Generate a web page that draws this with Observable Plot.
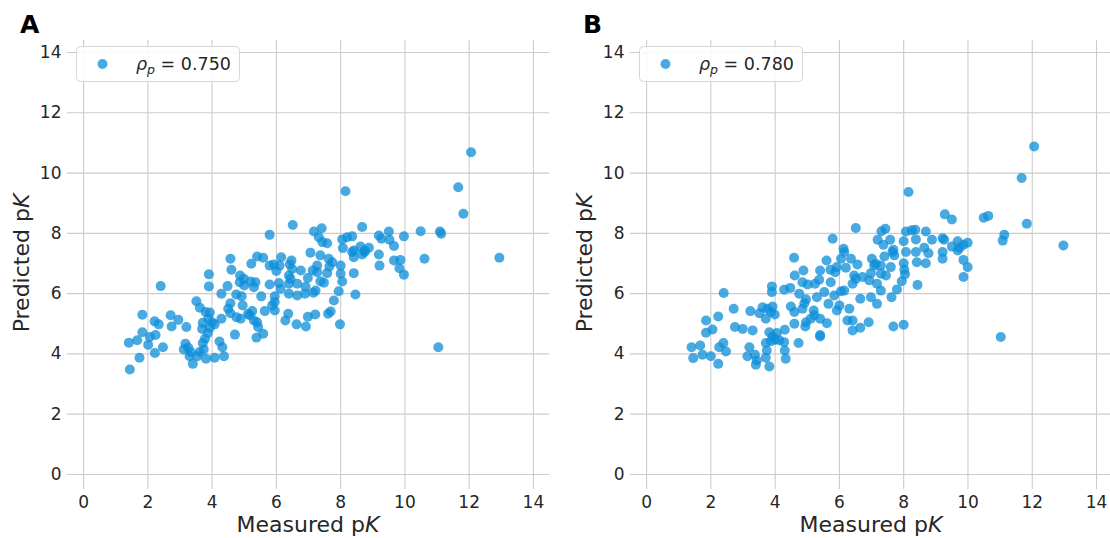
<!DOCTYPE html>
<html>
<head>
<meta charset="utf-8">
<script src="https://cdn.jsdelivr.net/npm/d3@7"></script>
<script src="https://cdn.jsdelivr.net/npm/@observablehq/plot@0.6"></script>
<style>
  html, body { margin: 0; padding: 0; background: #fff; overflow: hidden; }
  #wrap { position: relative; width: 1110px; height: 538px; }
  .panel { position: absolute; top: 0; }
</style>
</head>
<body>
<div id="wrap"></div>
<script>
// ---- data ----
const panelLabels = ["A", "B"];
const rhoValues = ["0.750", "0.780"];
const ticks = [0, 2, 4, 6, 8, 10, 12, 14];

const measuredA = [4.57,5.40,5.59,6.15,6.47,7.06,5.22,4.60,5.79,5.92,6.10,6.00,6.42,6.49,6.76,6.39,6.44,3.90,3.90,4.87,4.99,4.86,5.20,5.35,5.30,5.00,4.48,5.79,6.08,6.39,6.65,6.98,6.91,6.13,2.40,4.29,4.75,4.92,5.53,5.95,5.95,6.39,6.65,6.89,7.15,3.51,4.57,4.95,4.50,3.62,3.80,3.93,4.29,3.88,4.00,3.71,3.69,3.93,4.08,3.87,3.78,3.71,4.23,4.32,3.74,3.61,3.17,3.26,3.12,3.33,3.30,3.54,3.40,3.81,4.08,4.37,4.57,4.71,4.89,4.76,5.12,5.25,5.17,5.30,5.43,5.40,5.59,5.38,5.64,5.87,5.95,6.37,6.28,6.63,6.92,6.98,7.21,1.83,2.21,2.34,2.71,2.95,2.74,3.20,1.83,2.24,2.06,1.41,1.67,2.01,2.47,2.22,1.74,1.44,7.37,7.63,7.74,7.27,7.13,7.27,7.65,8.00,7.58,8.00,8.05,8.41,7.37,7.48,7.22,7.94,8.46,7.79,7.69,7.61,7.98,8.36,8.67,8.75,8.41,9.19,9.21,9.66,9.86,9.83,9.97,10.61,12.94,11.04,12.06,8.15,11.66,11.82,7.17,7.41,7.32,7.43,7.58,8.05,8.20,8.36,8.67,8.07,8.41,8.62,8.75,8.88,9.19,9.27,9.50,9.52,9.66,9.97,10.49,11.09,11.13,6.51,5.79];
const predictedA = [7.16,7.23,7.19,7.21,7.10,7.36,6.99,6.79,6.93,6.97,6.93,6.75,6.97,6.82,6.77,6.60,6.49,6.64,6.24,6.60,6.49,6.38,6.40,6.38,6.21,6.27,6.25,6.30,6.35,6.33,6.33,6.52,6.23,6.16,6.25,6.00,5.97,5.91,5.91,5.91,5.72,6.00,5.94,6.00,6.03,5.75,5.68,5.61,5.50,5.53,5.39,5.37,5.17,5.17,5.05,5.03,4.83,4.87,4.98,4.69,4.50,4.36,4.41,4.22,4.15,4.06,4.34,4.20,4.15,4.06,3.92,3.92,3.67,3.84,3.87,3.92,5.35,4.64,5.17,5.22,5.33,5.42,5.28,5.11,4.89,5.05,4.67,4.54,5.42,5.61,5.44,5.33,5.11,4.98,4.91,5.23,5.31,5.30,5.08,4.98,5.28,5.13,4.91,4.89,4.72,4.63,4.56,4.37,4.45,4.30,4.22,4.03,3.87,3.48,7.27,7.16,7.04,6.93,6.77,6.71,6.90,6.93,6.68,6.66,6.40,6.68,6.41,6.36,6.10,6.08,5.97,5.77,5.41,5.33,4.98,7.38,7.30,7.38,7.21,7.30,6.93,7.10,7.12,6.84,6.63,7.16,7.19,4.22,10.69,9.40,9.53,8.65,8.06,8.17,7.87,7.71,7.67,7.80,7.87,7.90,8.21,7.51,7.43,7.56,7.43,7.52,7.93,7.82,8.06,7.79,7.58,7.90,8.07,8.06,7.99,8.28,7.95];

const measuredB = [4.59,5.60,6.05,6.15,6.36,6.56,7.01,7.13,4.88,4.61,5.40,5.72,5.87,5.92,6.20,6.46,6.51,6.72,6.93,6.98,7.17,4.85,5.01,5.24,5.37,5.73,6.41,6.05,5.84,6.15,3.90,3.90,4.28,4.47,4.75,4.96,4.91,5.30,5.53,5.66,5.92,6.00,6.31,6.65,6.98,7.17,2.40,2.71,3.23,3.51,3.61,3.76,3.92,3.87,3.99,3.71,4.49,4.60,4.85,5.20,5.22,5.11,4.96,4.94,5.40,5.61,4.60,5.40,5.40,4.73,6.25,6.41,6.41,6.65,6.91,1.85,2.23,2.05,1.85,2.75,2.99,3.30,3.82,4.05,3.92,4.30,3.71,4.00,3.87,4.13,4.28,4.30,4.33,3.74,3.71,3.82,3.37,3.14,3.43,3.40,3.20,2.26,2.39,2.47,2.23,1.40,1.67,1.45,1.74,2.00,7.40,7.71,7.65,8.07,8.38,8.77,9.21,9.21,9.68,8.00,8.69,8.41,9.86,9.99,9.86,7.08,7.29,7.60,7.29,7.45,8.02,8.04,7.29,7.94,8.43,7.79,7.62,7.68,8.00,11.02,12.06,11.67,8.15,9.28,9.50,10.49,10.63,11.83,12.97,11.13,11.08,7.31,7.43,8.07,8.25,8.36,8.69,7.19,7.37,7.58,8.00,8.38,8.88,9.21,9.26,7.68,8.64,9.50,9.68,9.74,9.86,9.99,6.51,5.79,6.13];
const predictedB = [7.19,7.10,7.16,7.38,7.16,6.97,7.16,6.99,6.77,6.60,6.77,6.79,6.71,6.88,6.86,6.60,6.49,6.55,6.44,6.68,6.33,6.38,6.30,6.33,6.46,6.38,6.33,6.08,5.94,6.10,6.24,6.05,6.13,6.19,6.00,5.81,5.68,5.88,6.05,5.66,5.44,5.61,5.50,5.83,5.88,5.66,6.02,5.50,5.42,5.35,5.55,5.50,5.57,5.39,5.31,5.17,5.57,5.39,5.50,5.44,5.28,5.17,5.05,4.91,5.17,5.02,5.00,4.63,4.58,4.36,5.11,5.11,4.78,4.87,5.05,5.11,5.24,4.81,4.70,4.89,4.83,4.78,4.72,4.69,4.58,4.80,4.36,4.47,4.42,4.45,4.39,4.11,3.84,4.11,3.87,3.58,3.97,3.92,3.78,3.64,4.22,4.22,4.36,4.08,3.67,4.22,4.28,3.86,3.97,3.92,7.23,7.27,7.38,7.38,7.38,7.34,7.38,7.16,7.43,7.01,7.01,7.04,7.12,6.88,6.55,6.93,6.93,6.88,6.66,6.60,6.79,6.64,6.10,6.41,6.29,6.14,5.88,4.91,4.97,4.56,10.88,9.84,9.37,8.63,8.46,8.52,8.58,8.32,7.60,7.95,7.76,8.07,8.15,8.06,8.10,8.12,8.06,7.79,7.62,7.79,7.74,7.80,7.79,7.84,7.79,7.46,7.52,7.56,7.74,7.52,7.62,7.69,8.18,7.82,7.49];

// ---- drawing ----
const FONT = "DejaVu Sans";
const INK = "#262626";
const DOT = "#0c8ed8";

function makePanel(measured, predicted, label, rho, left, width, xMax) {
  const data = measured.map((m, i) => ({m, p: predicted[i]}));
  const chart = Plot.plot({
    width, height: 538,
    marginLeft: 67, marginRight: width - 67 - Math.round((xMax + 0.5) * 32.13),
    marginTop: 40, marginBottom: 49,
    x: {domain: [-0.5, xMax]},
    y: {domain: [-0.5, 14.4]},
    style: {fontFamily: FONT, fontSize: "17px", color: INK, background: "transparent", overflow: "visible"},
    marks: [
      Plot.gridX(ticks, {stroke: "#cccccc", strokeOpacity: 1, strokeWidth: 1.1}),
      Plot.gridY(ticks, {stroke: "#cccccc", strokeOpacity: 1, strokeWidth: 1.1}),
      Plot.axisX(ticks, {tickSize: 0, tickPadding: 6, label: null, fontSize: 17, fill: INK}),
      Plot.axisY(ticks, {tickSize: 0, tickPadding: 6, label: null, fontSize: 17, fill: INK}),
      Plot.dot(data, {x: "m", y: "p", r: 5, fill: DOT, fillOpacity: 0.75, stroke: "none"})
    ]
  });
  const svg = d3.select(chart);
  const xs = chart.scale("x"), ys = chart.scale("y");
  // panel letter
  svg.append("text").attr("x", 20).attr("y", 33).attr("text-anchor", "start")
    .attr("font-family", FONT).attr("font-weight", "bold").attr("font-size", 25)
    .attr("fill", "#000").text(label);
  // x label
  const xl = svg.append("text").attr("x", xs.apply(7)).attr("y", 532)
    .attr("text-anchor", "middle").attr("font-family", FONT).attr("font-size", 22).attr("fill", INK);
  xl.append("tspan").text("Measured p");
  xl.append("tspan").attr("font-style", "italic").text("K");
  // y label
  const yl = svg.append("text")
    .attr("transform", `translate(29,${ys.apply(7)}) rotate(-90)`)
    .attr("text-anchor", "middle").attr("font-family", FONT).attr("font-size", 22).attr("fill", INK);
  yl.append("tspan").text("Predicted p");
  yl.append("tspan").attr("font-style", "italic").text("K");
  // legend
  const lg = svg.append("g");
  lg.append("rect").attr("x", 76.5).attr("y", 46.5).attr("width", 163).attr("height", 35)
    .attr("rx", 4).attr("fill", "#ffffff").attr("fill-opacity", 0.85)
    .attr("stroke", "#d6d6d6").attr("stroke-width", 1);
  lg.append("circle").attr("cx", 102.5).attr("cy", 64).attr("r", 5)
    .attr("fill", DOT).attr("fill-opacity", 0.75);
  const lt = lg.append("text").attr("x", 136).attr("y", 70).attr("text-anchor", "start")
    .attr("font-family", FONT).attr("font-size", 17.5).attr("fill", INK);
  lt.append("tspan").attr("font-style", "italic").text("ρ");
  lt.append("tspan").attr("font-style", "italic").attr("font-size", 12.5).attr("dy", 4).text("p");
  lt.append("tspan").attr("dy", -4).text(" = " + rho);
  const div = document.createElement("div");
  div.className = "panel";
  div.style.left = left + "px";
  div.appendChild(chart);
  document.getElementById("wrap").appendChild(div);
}

makePanel(measuredA, predictedA, panelLabels[0], rhoValues[0], 0, 560, 14.5);
makePanel(measuredB, predictedB, panelLabels[1], rhoValues[1], 563, 547, 14.435);
</script>
</body>
</html>
